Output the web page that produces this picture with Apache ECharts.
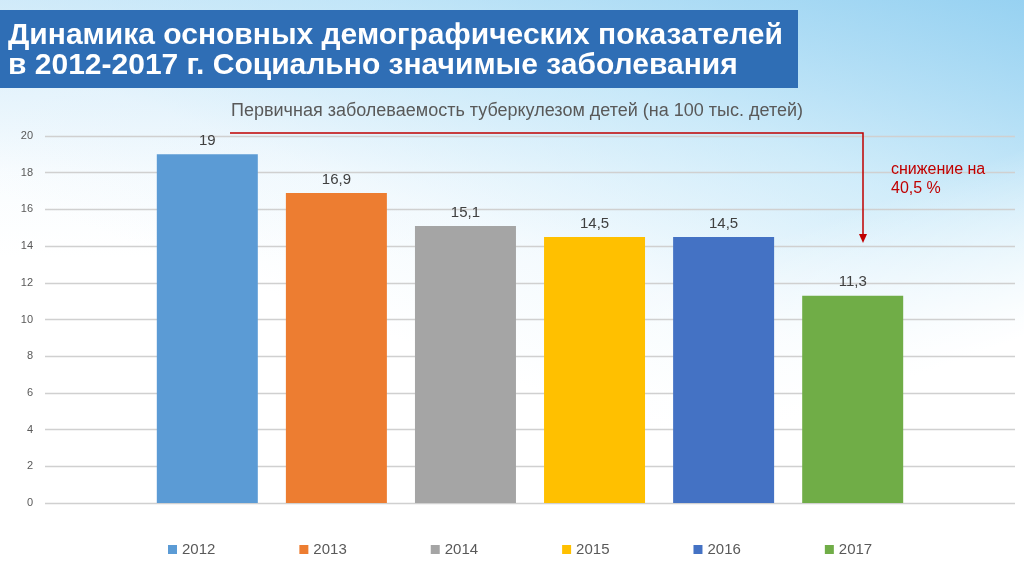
<!DOCTYPE html>
<html>
<head>
<meta charset="utf-8">
<script src="https://cdn.jsdelivr.net/npm/echarts@6/dist/echarts.min.js"></script>
<style>
html,body{margin:0;padding:0;width:1024px;height:574px;overflow:hidden;background:#fff;}
#bg{position:absolute;left:0;top:0;width:1024px;height:574px;
background:
 linear-gradient(160deg, rgba(255,255,255,0) 55%, rgba(255,255,255,1) 75%),
 linear-gradient(200deg, rgba(140,205,240,0.85) 0%, rgba(180,225,247,0.6) 25%, rgba(220,240,252,0.3) 45%, rgba(255,255,255,0) 60%),
 linear-gradient(180deg, rgba(205,232,248,0.85) 0%, rgba(240,248,253,0.4) 30%, rgba(255,255,255,0) 45%);
}
#chart{position:absolute;left:0;top:0;width:1024px;height:574px;}
</style>
</head>
<body>
<div id="bg"></div>
<div id="chart"></div>
<script>
const categories = ['2012','2013','2014','2015','2016','2017'];
const values = [19, 16.9, 15.1, 14.5, 14.5, 11.3];
const colors = ['#5B9BD5','#ED7D31','#A5A5A5','#FFC000','#4472C4','#70AD47'];
const yTicks = {min:0, max:20, interval:2};
const titleLines = ['Динамика основных демографических показателей','в 2012-2017 г. Социально значимые заболевания'];
const subtitle = 'Первичная заболеваемость туберкулезом детей (на 100 тыс. детей)';
const note = ['снижение на','40,5 %'];

const FONT = '"Liberation Sans", Arial, sans-serif';
const chart = echarts.init(document.getElementById('chart'), null, {renderer:'canvas'});

const series = categories.map((c,i)=>({
  name: c,
  type: 'bar',
  data: [values[i]],
  barWidth: 101,
  barGap: '27.8%',
  itemStyle: {color: colors[i]},
  label: {show:true, position:'top', distance:6, color:'#404040', fontSize:15, fontFamily:FONT,
          formatter: p => String(p.value).replace('.', ',')}
}));

chart.setOption({
  backgroundColor: 'transparent',
  animation: false,
  title: {
    text: subtitle, left: 512, top: 97, textAlign: 'center',
    textStyle: {color:'#595959', fontSize:18, fontWeight:'normal', fontFamily:FONT}
  },
  grid: {left: 45, right: 9, top: 136, bottom: 71},
  legend: {
    bottom: 12, left: 163, itemWidth: 9, itemHeight: 9, itemGap: 84, icon: 'rect',
    textStyle: {color:'#595959', fontSize:15, fontFamily:FONT}
  },
  xAxis: {type:'category', data:[''], axisLine:{show:false}, axisTick:{show:false}, axisLabel:{show:false}},
  yAxis: {type:'value', min:yTicks.min, max:yTicks.max, interval:yTicks.interval,
    axisLabel:{color:'#595959', fontSize:11, fontFamily:FONT, margin:12},
    splitLine:{lineStyle:{color:'#D0D0D0', width:1.3}},
    axisLine:{show:false}, axisTick:{show:false}},
  series: series,
  graphic: [
    {type:'rect', shape:{x:0,y:10,width:798,height:78}, style:{fill:'#2F6EB5'}, z:1},
    {type:'text', left:8, top:21, z:2, style:{text:titleLines[0], fill:'#fff', font:'bold 30px '+FONT}},
    {type:'text', left:8, top:51, z:2, style:{text:titleLines[1], fill:'#fff', font:'bold 30px '+FONT}},
    {type:'polyline', shape:{points:[[230,133],[863,133],[863,236]]}, style:{stroke:'#C00000', lineWidth:1.5, fill:null}, z:5},
    {type:'polygon', shape:{points:[[859,234],[867,234],[863,243]]}, style:{fill:'#C00000'}, z:5},
    {type:'text', left:891, top:160, z:5, style:{text:note.join('\n'), fill:'#C00000', font:'16px '+FONT, lineHeight:19}}
  ]
});
</script>
</body>
</html>
